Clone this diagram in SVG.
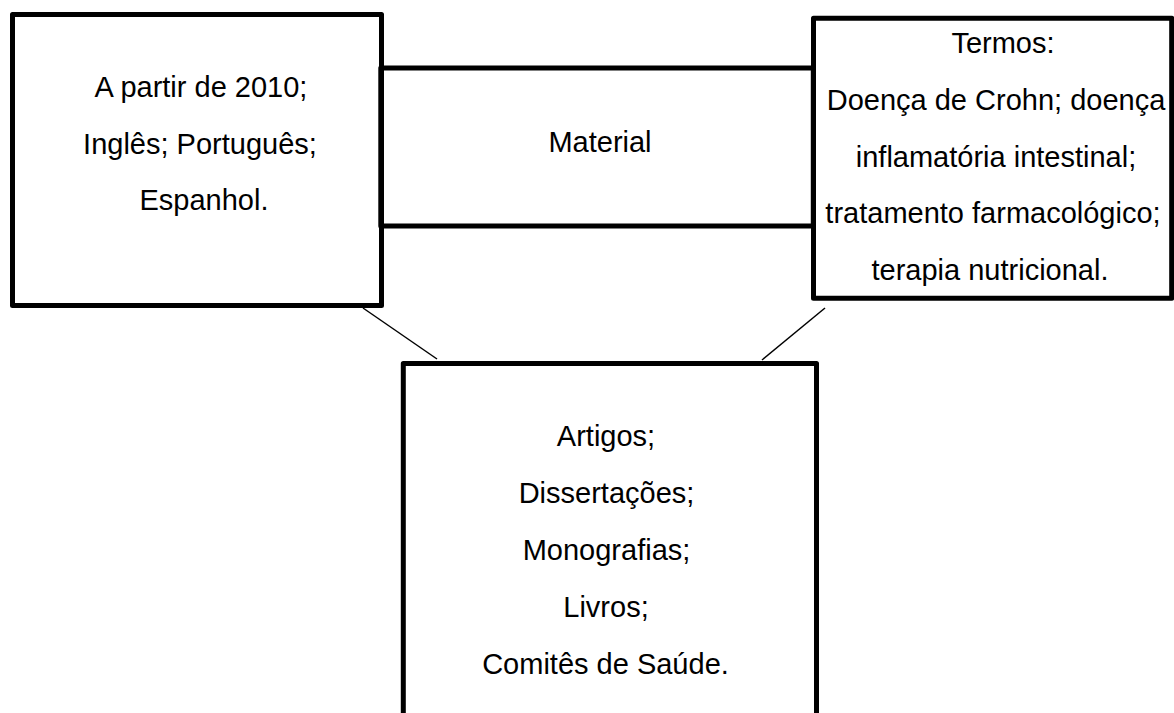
<svg xmlns="http://www.w3.org/2000/svg" width="1174" height="713" viewBox="0 0 1174 713">
<style>
.box{fill:none;stroke:#000;stroke-width:5;stroke-linejoin:round}
.conn{stroke:#000;stroke-width:1.5;fill:none}
text{font-family:"Liberation Sans",Arial,Helvetica,sans-serif;font-size:29px;fill:#000;text-anchor:middle}
</style>
<rect x="0" y="0" width="1174" height="713" fill="#fff"/>
<g id="connectors">
<line class="conn" x1="363" y1="308" x2="437" y2="359"/>
<line class="conn" x1="825" y1="308" x2="762" y2="360"/>
</g>
<g id="node-criterios">
<rect class="box" x="12.5" y="14.5" width="369" height="291"/>
<text x="201" y="97">A partir de 2010;</text>
<text x="200" y="153.5">Inglês; Português;</text>
<text x="204" y="210">Espanhol.</text>
</g>
<g id="node-material">
<rect class="box" x="380.8" y="68" width="432.5" height="158"/>
<text x="600" y="152">Material</text>
</g>
<g id="node-termos">
<rect class="box" x="813.5" y="18.3" width="358.2" height="280"/>
<text x="1003" y="53">Termos:</text>
<text x="996" y="110">Doença de Crohn; doença</text>
<text x="996" y="167">inflamatória intestinal;</text>
<text x="993" y="223">tratamento farmacológico;</text>
<text x="990" y="280">terapia nutricional.</text>
</g>
<g id="node-tipos">
<rect class="box" x="403.3" y="363.5" width="413.2" height="360"/>
<text x="606" y="446">Artigos;</text>
<text x="606.5" y="503">Dissertações;</text>
<text x="606.5" y="560">Monografias;</text>
<text x="606" y="617">Livros;</text>
<text x="605.5" y="674">Comitês de Saúde.</text>
</g>
</svg>
